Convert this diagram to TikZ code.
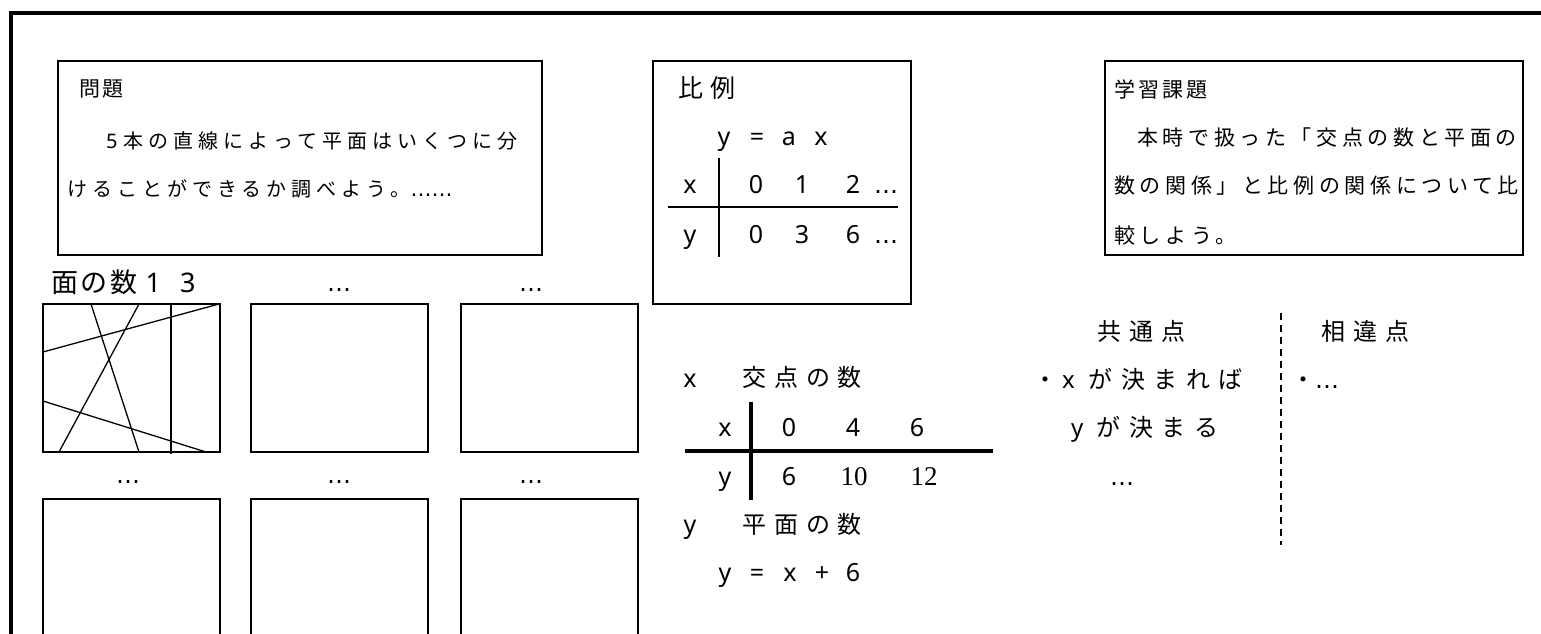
\documentclass[tikz,border=0pt]{standalone}
\usepackage{fontspec}
\setmainfont{Noto Sans CJK JP}
\newfontfamily\latinfont{Noto Sans}
\newfontfamily\numserif{Liberation Serif}
\newfontfamily\dotsfont{DejaVu Sans}
\usepackage{tikz}
\usetikzlibrary{calc}

% size and letter spacing of a line of board text
\newcommand\tracked[2]{\fontsize{#1}{#1}\selectfont\addfontfeature{LetterSpace=#2}}

\tikzset{
    % Thick frame round the board
    board frame/.style={line width=4pt, line join=miter},
    % Boxes round the notes
    note box/.style={line width=1.6pt},
    % Empty squares for the drawings
    sketch box/.style={line width=1.6pt},
    % Straight lines inside the first square
    cut line/.style={line width=1.3pt},
    % Table rules
    thin rule/.style={line width=1.5pt},
    thick rule/.style={line width=4pt},
    dashed rule/.style={line width=1.5pt, dash pattern=on 7pt off 5pt},
    % Lines of text, placed on their baseline
    board text/.style={inner sep=0pt, anchor=base west},
    % Single table entries, centred
    cell/.style={inner sep=0pt, anchor=base, font=\latinfont\fontsize{25}{25}\selectfont},
    serif cell/.style={inner sep=0pt, anchor=base, font=\numserif\fontsize{27}{27}\selectfont},
    dots/.style={inner sep=0pt, anchor=base, font=\dotsfont\fontsize{24}{24}\selectfont},
}

\begin{document}
\begin{tikzpicture}[x=1pt, y=-1pt]
    \useasboundingbox (0,0) rectangle (1541,634);
    \clip (0,0) rectangle (1541,634);

    % board frame
    \draw[board frame] (11,640) -- (11,13) -- (1545,13);

    % problem
    \draw[note box] (58,61) rectangle (542,255);
    \node[board text, font={\tracked{21}{10}}] (mondai) at (79,96.5) {問題};
    \node[board text, font={\tracked{20}{25}}] (mondai1) at (106,148.5) {{\latinfont 5}\hspace{6pt}本の直線によって平面はいくつに分};
    \node[board text, font={\tracked{20}{25}}] (mondai2) at (67,196.5) {けることができるか調べよう。{\dotsfont\fontsize{21}{21}\selectfont ……}};

    % proportion
    \draw[note box] (653,61) rectangle (911,304);
    \node[board text, font={\tracked{25}{28}}] (hirei) at (678,97) {比例};
    \foreach \cx/\ct [count=\i] in {724/y,757/=,789/a,821/x}
        \node[cell] (hirei-f\i) at (\cx,145.7) {\ct};
    \draw[thin rule] (719,158) -- (719,257);
    \draw[thin rule] (668,207) -- (898,207);
    \foreach \cx/\ct [count=\i] in {690/x,756/0,802/1,853/2}
        \node[cell] (hirei-x\i) at (\cx,193.3) {\ct};
    \node[dots] (hirei-x5) at (886,193.3) {…};
    \foreach \cx/\ct [count=\i] in {690/y,756/0,802/3,853/6}
        \node[cell] (hirei-y\i) at (\cx,243.3) {\ct};
    \node[dots] (hirei-y5) at (886,243.3) {…};

    % learning task
    \draw[note box] (1105,61) rectangle (1523,255);
    \node[board text, font={\tracked{21}{14}}] (kadai) at (1114,97.5) {学習課題};
    \node[board text, font={\tracked{21}{22}}] (kadai1) at (1137,145.5) {本時で扱った「交点の数と平面の};
    \node[board text, font={\tracked{21}{22}}] (kadai2) at (1114,193.5) {数の関係」と比例の関係について比};
    \node[board text, font={\tracked{21}{22}}] (kadai3) at (1114,243.5) {較しよう。};

    % squares for the drawings
    \node[board text, font={\tracked{27}{10}}] (menkazu) at (51,292) {面の数\hspace{8pt}{\latinfont 1\hspace{19pt}3}};
    \node[dots] (dots-a) at (339,291) {…};
    \node[dots] (dots-b) at (531,291) {…};
    \node[dots] (dots-c) at (128,483) {…};
    \node[dots] (dots-d) at (339,483) {…};
    \node[dots] (dots-e) at (531,483) {…};
    \foreach \sx in {43,251,461} {
        \draw[sketch box] (\sx,304) rectangle ++(177,148);
        \draw[sketch box] (\sx,499) rectangle ++(177,148);
    }
    \draw[cut line] (91,304) -- (139,452);
    \draw[cut line] (139,304) -- (59,452);
    \draw[cut line] (171,304) -- (171,454);
    \draw[cut line] (43,352) -- (219,304);
    \draw[cut line] (43,401) -- (206,452);

    % intersections and planes
    \node[cell] (xname) at (690,387) {x};
    \node[board text, font={\tracked{24}{33}}] (kouten) at (742,386.5) {交点の数};
    \draw[thick rule] (751,402) -- (751,500);
    \draw[thick rule] (685,451) -- (993,451);
    \foreach \cx/\ct [count=\i] in {725/x,789/0,853/4,917/6}
        \node[cell] (kazu-x\i) at (\cx,436.7) {\ct};
    \node[cell] (kazu-y1) at (725,485) {y};
    \node[cell] (kazu-y2) at (789,485) {6};
    \node[serif cell] (kazu-y3) at (854,485) {10};
    \node[serif cell] (kazu-y4) at (924,485) {12};
    \node[cell] (yname) at (690,533.5) {y};
    \node[board text, font={\tracked{24}{33}}] (heimen) at (742,533.5) {平面の数};
    \foreach \cx/\ct [count=\i] in {725/y,757/=,790/x,822/+,853/6}
        \node[cell] (shiki\i) at (\cx,581.7) {\ct};

    % common points and differences
    \node[board text, font={\tracked{24}{35}}] (kyoutsu) at (1097,340.5) {共通点};
    \node[board text, font={\tracked{24}{35}}] (kime1) at (1033,388) {・\hspace{5pt}{\latinfont x}\hspace{14pt}が決まれば};
    \node[board text, font={\tracked{24}{35}}] (kime2) at (1071,436.5) {{\latinfont y}\hspace{13.5pt}が決まる};
    \node[dots] (dots-f) at (1122,485) {…};
    \draw[dashed rule] (1281,313) -- (1281,545);
    \node[board text, font={\tracked{24}{35}}] (soui) at (1321,340.5) {相違点};
    \node[board text, font={\tracked{24}{35}}] (soui1) at (1291,388) {・{\dotsfont …}};
\end{tikzpicture}
\end{document}
